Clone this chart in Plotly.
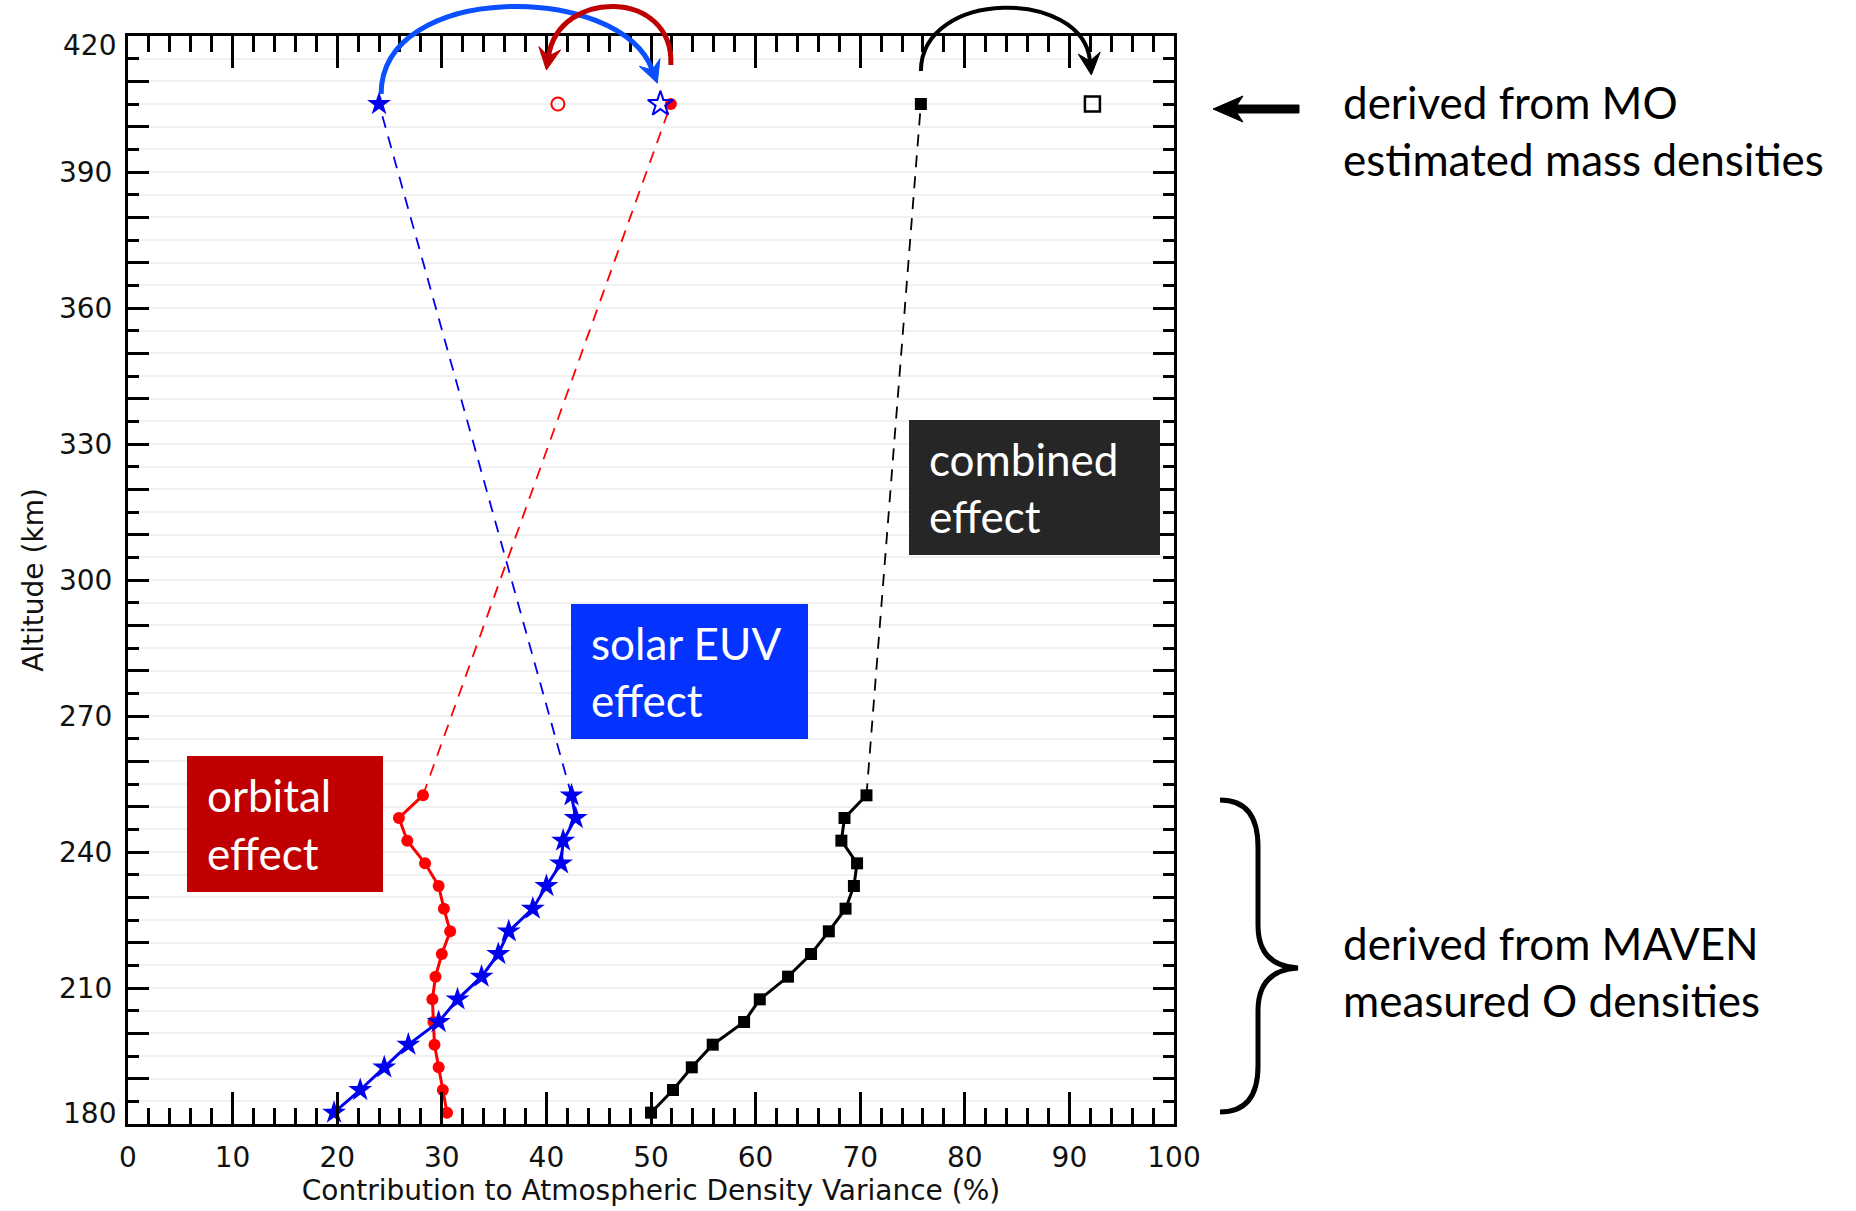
import math
import plotly.graph_objects as go

# ---------------------------------------------------------------------------
# Data
# ---------------------------------------------------------------------------
# MAVEN altitude bins (km)
altitude_km = [182.5, 187.5, 192.5, 197.5, 202.5, 207.5, 212.5, 217.5,
               222.5, 227.5, 232.5, 237.5, 242.5, 247.5, 252.5]

# Contribution to atmospheric density variance (%) from MAVEN O densities
orbital_pct = [30.5, 30.1, 29.7, 29.3, 29.2, 29.1, 29.4, 30.0,
               30.8, 30.2, 29.7, 28.4, 26.7, 25.9, 28.2]
solar_euv_pct = [19.7, 22.2, 24.5, 26.8, 29.7, 31.5, 33.8, 35.4,
                 36.4, 38.7, 40.0, 41.4, 41.6, 42.8, 42.4]
combined_pct = [50.0, 52.1, 53.9, 55.9, 58.9, 60.4, 63.1, 65.3,
                67.0, 68.6, 69.4, 69.7, 68.2, 68.5, 70.6]

# Mars Odyssey (MO) mass-density estimates at a single altitude
mo_altitude_km = 405
orbital_mo_filled, orbital_mo_open = 51.9, 41.1
solar_euv_mo_filled, solar_euv_mo_open = 24.0, 50.9
combined_mo_filled, combined_mo_open = 75.8, 92.2

x_tick_labels = ["0", "10", "20", "30", "40", "50", "60", "70", "80", "90", "100"]
y_tick_labels = ["210", "240", "270", "300", "330", "360", "390"]

# ---------------------------------------------------------------------------
# Layout geometry
# ---------------------------------------------------------------------------
W, H = 1856, 1211
M_L, M_R, M_T, M_B = 128, 682, 36, 87
PLOT_W = W - M_L - M_R
PLOT_H = H - M_T - M_B
X_RANGE = (0, 100)
Y_RANGE = (180, 420)

RED = "#FF0000"
BLUE = "#0000F0"
BLACK = "#000000"
ARC_BLUE = "#0A50FF"
ARC_RED = "#BE0000"
GRID = "#f0f0f0"

AXIS_FONT = dict(family="DejaVu Sans, sans-serif", size=28, color="#111111")
NOTE_FONT = "Lato, Open Sans, sans-serif"


def data_to_px(x, a):
    return (M_L + (x - X_RANGE[0]) / (X_RANGE[1] - X_RANGE[0]) * PLOT_W,
            M_T + (Y_RANGE[1] - a) / (Y_RANGE[1] - Y_RANGE[0]) * PLOT_H)


def px_to_paper(u, v):
    return ((u - M_L) / PLOT_W, (M_T + PLOT_H - v) / PLOT_H)


def pp(u, v):
    x, y = px_to_paper(u, v)
    return f"{x:.5f},{y:.5f}"


def curved_arrow(start, c1, c2, tip, color, width, head_len=22, head_w=11, notch=8):
    """Cubic arc ending in a notched arrowhead; points given in data units."""
    p0, p1, p2, p3 = (data_to_px(*p) for p in (start, c1, c2, tip))
    dx, dy = p3[0] - p2[0], p3[1] - p2[1]
    n = math.hypot(dx, dy)
    dx, dy = dx / n, dy / n
    nx, ny = -dy, dx
    end = (p3[0] - (head_len - notch) * dx, p3[1] - (head_len - notch) * dy)
    line = dict(type="path", xref="paper", yref="paper",
                path=f"M{pp(*p0)} C{pp(*p1)} {pp(*p2)} {pp(*end)}",
                line=dict(color=color, width=width), layer="above")
    b1 = (p3[0] - head_len * dx + head_w * nx, p3[1] - head_len * dy + head_w * ny)
    b2 = (p3[0] - head_len * dx - head_w * nx, p3[1] - head_len * dy - head_w * ny)
    head = dict(type="path", xref="paper", yref="paper",
                path=f"M{pp(*p3)} L{pp(*b1)} L{pp(*end)} L{pp(*b2)} Z",
                fillcolor=color, line=dict(color=color, width=1), layer="above")
    return [line, head]


fig = go.Figure()

# Dashed links from the top MAVEN bin to the MO estimate
for series, mo_val, color in [(orbital_pct, orbital_mo_filled, RED),
                              (solar_euv_pct, solar_euv_mo_filled, BLUE),
                              (combined_pct, combined_mo_filled, BLACK)]:
    fig.add_trace(go.Scatter(
        x=[series[-1], mo_val], y=[altitude_km[-1], mo_altitude_km],
        mode="lines", line=dict(color=color, width=1.8, dash="12px,9px"),
        hoverinfo="skip"))

# MAVEN profiles
fig.add_trace(go.Scatter(x=orbital_pct, y=altitude_km, mode="lines+markers",
                         line=dict(color=RED, width=3),
                         marker=dict(symbol="circle", size=12, color=RED),
                         name="orbital effect"))
fig.add_trace(go.Scatter(x=solar_euv_pct, y=altitude_km, mode="lines+markers",
                         line=dict(color=BLUE, width=3),
                         marker=dict(symbol="star", size=18, color=BLUE),
                         name="solar EUV effect"))
fig.add_trace(go.Scatter(x=combined_pct, y=altitude_km, mode="lines+markers",
                         line=dict(color=BLACK, width=3),
                         marker=dict(symbol="square", size=12, color=BLACK),
                         name="combined effect"))

# MO estimates (filled and open symbols)
mo_points = [
    (orbital_mo_filled, "circle", 12, RED, 0),
    (orbital_mo_open, "circle-open", 13, RED, 2),
    (solar_euv_mo_filled, "star", 18, BLUE, 0),
    (solar_euv_mo_open, "star-open", 19, BLUE, 2),
    (combined_mo_filled, "square", 12, BLACK, 0),
    (combined_mo_open, "square-open", 15, BLACK, 2.5),
]
for xv, sym, size, color, lw in mo_points:
    fig.add_trace(go.Scatter(
        x=[xv], y=[mo_altitude_km], mode="markers", cliponaxis=False,
        marker=dict(symbol=sym, size=size, color=color, line=dict(color=color, width=lw))))

# Curved arrows from filled to open MO estimates (drawn above the frame)
shapes = []
shapes += curved_arrow((solar_euv_mo_filled + 0.2, 407.2), (solar_euv_mo_filled + 0.2, 432.0),
                       (47.0, 432.0), (solar_euv_mo_open - 0.3, 409.6), ARC_BLUE, 5)
shapes += curved_arrow((orbital_mo_filled, 413.6), (orbital_mo_filled + 0.3, 430.5),
                       (41.2, 430.5), (orbital_mo_open - 1.1, 412.5), ARC_RED, 5)
shapes += curved_arrow((combined_mo_filled, 412.3), (combined_mo_filled + 0.1, 430.5),
                       (91.3, 430.5), (combined_mo_open - 0.1, 411.4), BLACK, 4)

# Left-pointing arrow towards the MO altitude
arrow_pts = [(1213, 109), (1243, 96), (1237, 105), (1299, 105),
             (1299, 113), (1237, 113), (1243, 122)]
shapes.append(dict(type="path", xref="paper", yref="paper",
                   path="M" + " L".join(pp(*p) for p in arrow_pts) + " Z",
                   fillcolor=BLACK, line=dict(color=BLACK, width=1)))

# Curly brace spanning the MAVEN altitudes
brace = (f"M{pp(1220, 800)} Q{pp(1258, 800)} {pp(1258, 847)} L{pp(1258, 925)} "
         f"Q{pp(1258, 966)} {pp(1298, 968)} Q{pp(1258, 970)} {pp(1258, 1011)} "
         f"L{pp(1258, 1066)} Q{pp(1258, 1112)} {pp(1220, 1112)}")
shapes.append(dict(type="path", xref="paper", yref="paper", path=brace,
                   line=dict(color=BLACK, width=5)))

annotations = []

# Labelled boxes inside the frame
for text, cx, cy, w, h, bg in [("orbital<br>effect", 15.03, 246.2, 156, 96, "#C00000"),
                               ("solar EUV<br>effect", 53.68, 279.8, 197, 95, "#0433FF"),
                               ("combined<br>effect", 86.71, 320.4, 211, 95, "#262626")]:
    annotations.append(dict(x=cx, y=cy, xref="x", yref="y", text=text, showarrow=False,
                            xanchor="center", yanchor="middle", align="left", valign="middle",
                            width=w, height=h, borderpad=20, borderwidth=0, bgcolor=bg,
                            font=dict(family=NOTE_FONT, size=44, color="white")))

# Notes outside the frame
for text, cy in [("derived from MO<br>estimated mass densities", 130.5),
                 ("derived from MAVEN<br>measured O densities", 971)]:
    x, y = px_to_paper(1341, cy)
    annotations.append(dict(x=x, y=y, xref="paper", yref="paper", text=text, showarrow=False,
                            xanchor="left", yanchor="middle", align="left",
                            font=dict(family=NOTE_FONT, size=44, color="black")))

# End labels of the altitude axis, nudged inside the frame
for label, cy in [("420", 46), ("180", 1113)]:
    x, y = px_to_paper(118, cy)
    annotations.append(dict(x=x, y=y, xref="paper", yref="paper", text=label, showarrow=False,
                            xanchor="right", yanchor="middle", font=AXIS_FONT))

y_major = [190, 200, 210, 220, 230, 240, 250, 260, 270, 280, 290, 300, 310,
           320, 330, 340, 350, 360, 370, 380, 390, 400, 410]
y_text = [str(v) if str(v) in y_tick_labels else "" for v in y_major]
y_minor = [185, 195, 205, 215, 225, 235, 245, 255, 265, 275, 285, 295,
           305, 315, 325, 335, 345, 355, 365, 375, 385, 395, 405, 415]

fig.update_layout(
    width=W, height=H,
    margin=dict(l=M_L, r=M_R, t=M_T, b=M_B),
    paper_bgcolor="white", plot_bgcolor="white",
    showlegend=False,
    shapes=shapes, annotations=annotations,
    xaxis=dict(
        range=list(X_RANGE), tickmode="array",
        tickvals=[float(t) for t in x_tick_labels], ticktext=x_tick_labels,
        ticks="inside", ticklen=32, tickwidth=2.5, tickcolor=BLACK,
        minor=dict(tickmode="linear", tick0=0, dtick=2, ticks="inside",
                   ticklen=16, tickwidth=2.5, tickcolor=BLACK, showgrid=False),
        showline=True, linewidth=3, linecolor=BLACK, mirror="ticks",
        showgrid=False, zeroline=False, tickfont=AXIS_FONT, ticklabelstandoff=6,
        title=dict(text="Contribution to Atmospheric Density Variance (%)",
                   font=AXIS_FONT, standoff=6),
        automargin=False,
    ),
    yaxis=dict(
        range=list(Y_RANGE), tickmode="array", tickvals=y_major, ticktext=y_text,
        ticks="inside", ticklen=21, tickwidth=2.5, tickcolor=BLACK,
        minor=dict(tickmode="array", tickvals=y_minor, ticks="inside", ticklen=11,
                   tickwidth=2.5, tickcolor=BLACK, showgrid=True,
                   gridcolor=GRID, gridwidth=1.5),
        showline=True, linewidth=3, linecolor=BLACK, mirror="ticks",
        showgrid=True, gridcolor=GRID, gridwidth=1.5, zeroline=False,
        tickfont=AXIS_FONT, ticklabelstandoff=7,
        title=dict(text="Altitude (km)", font=AXIS_FONT, standoff=8),
        automargin=False,
    ),
)

fig.write_html("out.html")
